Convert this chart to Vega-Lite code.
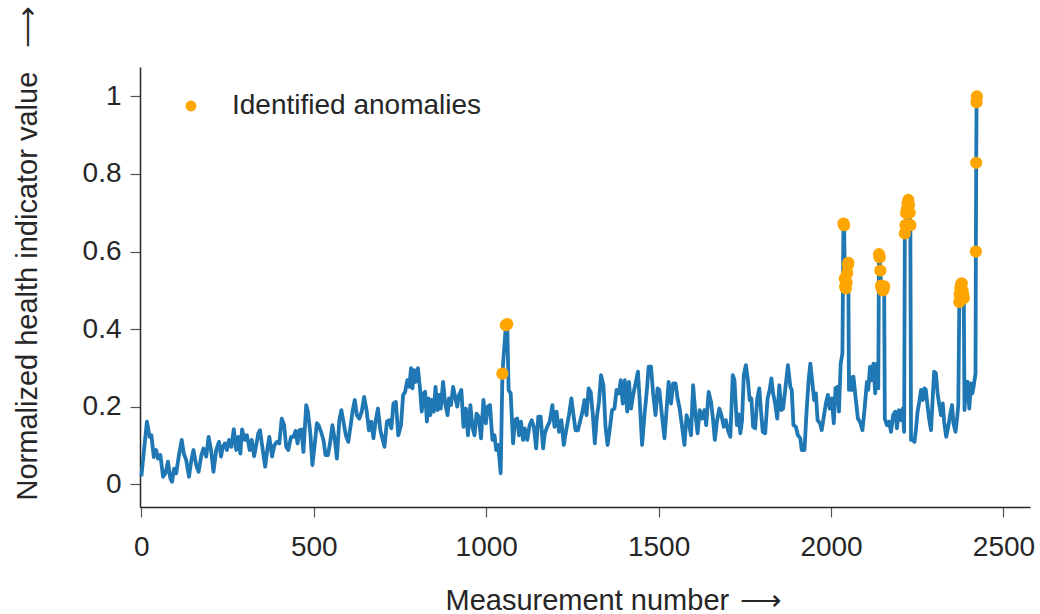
{
"$schema": "https://vega.github.io/schema/vega-lite/v6.json",
"width": 890, "height": 440,
"autosize": {"type": "none"},
"padding": {"left": 140, "top": 67, "right": 10, "bottom": 107},
"background": "white",
"config": {"view": {"stroke": null}, "font": "Liberation Sans"},
"data": {"values": [
{"x":0,"y":0.02},{"x":16,"y":0.161},{"x":24,"y":0.122},{"x":29,"y":0.126},{"x":36,"y":0.070},{"x":43,"y":0.088},{"x":48,"y":0.066},{"x":55,"y":0.075},{"x":63,"y":0.019},{"x":70,"y":0.028},{"x":77,"y":0.058},{"x":84,"y":0.015},{"x":89,"y":0.006},{"x":95,"y":0.040},{"x":101,"y":0.028},{"x":109,"y":0.075},{"x":117,"y":0.114},{"x":123,"y":0.079},{"x":130,"y":0.062},{"x":138,"y":0.019},{"x":145,"y":0.062},{"x":151,"y":0.088},{"x":159,"y":0.049},{"x":166,"y":0.032},{"x":174,"y":0.075},{"x":180,"y":0.092},{"x":188,"y":0.071},{"x":195,"y":0.122},{"x":202,"y":0.088},{"x":209,"y":0.032},{"x":217,"y":0.088},{"x":225,"y":0.109},{"x":231,"y":0.071},{"x":236,"y":0.096},{"x":242,"y":0.105},{"x":248,"y":0.088},{"x":254,"y":0.114},{"x":261,"y":0.096},{"x":268,"y":0.142},{"x":275,"y":0.088},{"x":281,"y":0.122},{"x":287,"y":0.079},{"x":292,"y":0.141},{"x":300,"y":0.114},{"x":306,"y":0.126},{"x":314,"y":0.088},{"x":320,"y":0.114},{"x":327,"y":0.072},{"x":333,"y":0.101},{"x":339,"y":0.131},{"x":344,"y":0.139},{"x":352,"y":0.088},{"x":359,"y":0.045},{"x":365,"y":0.088},{"x":371,"y":0.122},{"x":379,"y":0.071},{"x":386,"y":0.101},{"x":393,"y":0.109},{"x":400,"y":0.105},{"x":407,"y":0.169},{"x":414,"y":0.152},{"x":420,"y":0.096},{"x":426,"y":0.088},{"x":434,"y":0.122},{"x":441,"y":0.122},{"x":447,"y":0.137},{"x":453,"y":0.105},{"x":458,"y":0.139},{"x":464,"y":0.141},{"x":470,"y":0.083},{"x":478,"y":0.204},{"x":483,"y":0.187},{"x":490,"y":0.131},{"x":496,"y":0.049},{"x":503,"y":0.105},{"x":509,"y":0.157},{"x":514,"y":0.152},{"x":521,"y":0.135},{"x":528,"y":0.114},{"x":534,"y":0.075},{"x":541,"y":0.075},{"x":547,"y":0.105},{"x":554,"y":0.152},{"x":561,"y":0.114},{"x":567,"y":0.066},{"x":574,"y":0.165},{"x":580,"y":0.191},{"x":586,"y":0.161},{"x":593,"y":0.126},{"x":600,"y":0.109},{"x":607,"y":0.152},{"x":613,"y":0.191},{"x":619,"y":0.217},{"x":625,"y":0.178},{"x":632,"y":0.169},{"x":639,"y":0.187},{"x":646,"y":0.225},{"x":653,"y":0.191},{"x":660,"y":0.139},{"x":667,"y":0.161},{"x":673,"y":0.118},{"x":679,"y":0.161},{"x":686,"y":0.195},{"x":693,"y":0.139},{"x":700,"y":0.114},{"x":705,"y":0.096},{"x":712,"y":0.161},{"x":719,"y":0.165},{"x":725,"y":0.144},{"x":731,"y":0.208},{"x":738,"y":0.212},{"x":745,"y":0.126},{"x":753,"y":0.152},{"x":759,"y":0.230},{"x":765,"y":0.238},{"x":771,"y":0.268},{"x":777,"y":0.251},{"x":782,"y":0.299},{"x":786,"y":0.247},{"x":791,"y":0.294},{"x":796,"y":0.264},{"x":802,"y":0.299},{"x":808,"y":0.247},{"x":813,"y":0.187},{"x":818,"y":0.234},{"x":823,"y":0.238},{"x":828,"y":0.161},{"x":833,"y":0.221},{"x":838,"y":0.178},{"x":842,"y":0.217},{"x":848,"y":0.187},{"x":853,"y":0.251},{"x":859,"y":0.191},{"x":864,"y":0.230},
{"x":868,"y":0.195},{"x":875,"y":0.264},{"x":881,"y":0.208},{"x":888,"y":0.178},{"x":892,"y":0.221},{"x":898,"y":0.204},{"x":904,"y":0.251},{"x":910,"y":0.225},{"x":916,"y":0.200},{"x":921,"y":0.230},{"x":928,"y":0.243},{"x":934,"y":0.148},{"x":941,"y":0.195},{"x":947,"y":0.126},{"x":954,"y":0.204},{"x":960,"y":0.148},{"x":966,"y":0.126},{"x":972,"y":0.182},{"x":978,"y":0.174},{"x":985,"y":0.118},{"x":992,"y":0.217},{"x":999,"y":0.157},{"x":1005,"y":0.200},{"x":1011,"y":0.204},{"x":1018,"y":0.114},{"x":1024,"y":0.126},{"x":1029,"y":0.088},{"x":1035,"y":0.101},{"x":1042,"y":0.028},{"x":1047,"y":0.285,"a":1},{"x":1057,"y":0.41,"a":1},{"x":1061,"y":0.413,"a":1},{"x":1065,"y":0.243},{"x":1071,"y":0.234},{"x":1078,"y":0.105},{"x":1083,"y":0.165},{"x":1090,"y":0.169},{"x":1095,"y":0.126},{"x":1101,"y":0.161},{"x":1107,"y":0.114},{"x":1112,"y":0.144},{"x":1119,"y":0.114},{"x":1126,"y":0.152},{"x":1132,"y":0.165},{"x":1138,"y":0.148},{"x":1145,"y":0.092},{"x":1151,"y":0.174},{"x":1158,"y":0.174},{"x":1165,"y":0.092},{"x":1170,"y":0.131},{"x":1177,"y":0.148},{"x":1184,"y":0.161},{"x":1192,"y":0.204},{"x":1198,"y":0.148},{"x":1204,"y":0.187},{"x":1211,"y":0.135},{"x":1218,"y":0.165},{"x":1225,"y":0.101},{"x":1232,"y":0.139},{"x":1240,"y":0.178},{"x":1247,"y":0.221},{"x":1252,"y":0.187},{"x":1259,"y":0.139},{"x":1266,"y":0.139},{"x":1272,"y":0.161},{"x":1278,"y":0.182},{"x":1285,"y":0.217},{"x":1291,"y":0.178},{"x":1297,"y":0.247},{"x":1303,"y":0.238},{"x":1309,"y":0.182},{"x":1315,"y":0.105},{"x":1321,"y":0.174},{"x":1327,"y":0.212},{"x":1333,"y":0.281},{"x":1340,"y":0.255},{"x":1346,"y":0.148},{"x":1352,"y":0.101},{"x":1358,"y":0.139},{"x":1365,"y":0.191},{"x":1372,"y":0.195},{"x":1378,"y":0.243},{"x":1385,"y":0.234},{"x":1390,"y":0.268},{"x":1396,"y":0.208},{"x":1402,"y":0.268},{"x":1409,"y":0.187},{"x":1414,"y":0.264},{"x":1420,"y":0.195},{"x":1427,"y":0.234},{"x":1434,"y":0.264},{"x":1440,"y":0.290},{"x":1445,"y":0.217},{"x":1452,"y":0.101},{"x":1459,"y":0.178},{"x":1466,"y":0.243},{"x":1471,"y":0.303},{"x":1478,"y":0.303},{"x":1484,"y":0.234},{"x":1491,"y":0.178},{"x":1497,"y":0.247},{"x":1502,"y":0.243},{"x":1510,"y":0.174},{"x":1517,"y":0.118},{"x":1524,"y":0.204},{"x":1529,"y":0.264},{"x":1536,"y":0.208},{"x":1542,"y":0.260},{"x":1549,"y":0.260},{"x":1555,"y":0.221},{"x":1561,"y":0.195},{"x":1568,"y":0.148},{"x":1575,"y":0.101},{"x":1581,"y":0.178},{"x":1587,"y":0.161},{"x":1594,"y":0.126},{"x":1600,"y":0.255},{"x":1607,"y":0.178},{"x":1613,"y":0.131},{"x":1619,"y":0.191},{"x":1626,"y":0.169},{"x":1633,"y":0.191},{"x":1638,"y":0.152},{"x":1645,"y":0.238},{"x":1652,"y":0.212},{"x":1657,"y":0.174},{"x":1663,"y":0.114},{"x":1669,"y":0.161},{"x":1676,"y":0.195},{"x":1682,"y":0.178},{"x":1689,"y":0.148},{"x":1695,"y":0.165},{"x":1701,"y":0.139},{"x":1708,"y":0.122},{"x":1715,"y":0.281},{"x":1720,"y":0.268},{"x":1727,"y":0.152},{"x":1732,"y":0.18},
{"x":1737,"y":0.131},{"x":1742,"y":0.165},{"x":1747,"y":0.281},{"x":1753,"y":0.307},{"x":1759,"y":0.268},{"x":1764,"y":0.217},{"x":1769,"y":0.221},{"x":1774,"y":0.148},{"x":1780,"y":0.144},{"x":1786,"y":0.221},{"x":1792,"y":0.247},{"x":1797,"y":0.187},{"x":1802,"y":0.135},{"x":1809,"y":0.131},{"x":1816,"y":0.221},{"x":1822,"y":0.243},{"x":1827,"y":0.273},{"x":1832,"y":0.234},{"x":1838,"y":0.208},{"x":1844,"y":0.169},{"x":1850,"y":0.255},{"x":1856,"y":0.191},{"x":1861,"y":0.195},{"x":1867,"y":0.243},{"x":1875,"y":0.307},{"x":1882,"y":0.251},{"x":1886,"y":0.243},{"x":1891,"y":0.152},{"x":1898,"y":0.148},{"x":1904,"y":0.126},{"x":1911,"y":0.118},{"x":1915,"y":0.088},{"x":1923,"y":0.088},{"x":1929,"y":0.187},{"x":1935,"y":0.268},{"x":1940,"y":0.311},{"x":1944,"y":0.277},{"x":1951,"y":0.217},{"x":1956,"y":0.234},{"x":1961,"y":0.165},{"x":1968,"y":0.157},{"x":1973,"y":0.139},{"x":1979,"y":0.174},{"x":1985,"y":0.208},{"x":1991,"y":0.230},{"x":1996,"y":0.195},{"x":2002,"y":0.221},{"x":2008,"y":0.157},{"x":2013,"y":0.247},{"x":2019,"y":0.251},{"x":2023,"y":0.187},{"x":2028,"y":0.311},{"x":2033,"y":0.337},
{"x":2036,"y":0.672,"a":1},{"x":2038,"y":0.668,"a":1},{"x":2040,"y":0.53,"a":1},{"x":2041,"y":0.51,"a":1},{"x":2043,"y":0.505,"a":1},{"x":2045,"y":0.52,"a":1},{"x":2047,"y":0.545,"a":1},{"x":2049,"y":0.565,"a":1},{"x":2050,"y":0.571,"a":1},{"x":2052,"y":0.243},
{"x":2055,"y":0.277},{"x":2060,"y":0.243},{"x":2065,"y":0.277},{"x":2072,"y":0.217},{"x":2078,"y":0.169},{"x":2084,"y":0.161},{"x":2091,"y":0.139},{"x":2097,"y":0.191},{"x":2104,"y":0.264},{"x":2108,"y":0.243},{"x":2113,"y":0.303},{"x":2118,"y":0.268},{"x":2123,"y":0.311},{"x":2128,"y":0.234},{"x":2133,"y":0.311},{"x":2137,"y":0.247},
{"x":2139,"y":0.593,"a":1},{"x":2141,"y":0.585,"a":1},{"x":2143,"y":0.551,"a":1},{"x":2145,"y":0.512,"a":1},{"x":2147,"y":0.505,"a":1},{"x":2150,"y":0.50,"a":1},{"x":2152,"y":0.503,"a":1},{"x":2154,"y":0.51,"a":1},{"x":2156,"y":0.169},
{"x":2162,"y":0.152},{"x":2168,"y":0.161},{"x":2174,"y":0.135},{"x":2180,"y":0.178},{"x":2186,"y":0.187},{"x":2191,"y":0.144},{"x":2197,"y":0.191},{"x":2203,"y":0.165},{"x":2208,"y":0.195},{"x":2212,"y":0.135},
{"x":2214,"y":0.647,"a":1},{"x":2216,"y":0.668,"a":1},{"x":2218,"y":0.699,"a":1},{"x":2220,"y":0.71,"a":1},{"x":2222,"y":0.725,"a":1},{"x":2224,"y":0.733,"a":1},{"x":2226,"y":0.72,"a":1},{"x":2228,"y":0.70,"a":1},{"x":2230,"y":0.668,"a":1},{"x":2232,"y":0.114},
{"x":2236,"y":0.114},{"x":2242,"y":0.109},{"x":2246,"y":0.139},{"x":2251,"y":0.187},{"x":2256,"y":0.213},{"x":2261,"y":0.243},{"x":2266,"y":0.217},{"x":2271,"y":0.247},{"x":2275,"y":0.243},{"x":2280,"y":0.200},{"x":2285,"y":0.165},{"x":2290,"y":0.139},{"x":2295,"y":0.225},{"x":2299,"y":0.290},{"x":2304,"y":0.286},{"x":2309,"y":0.234},{"x":2314,"y":0.204},{"x":2319,"y":0.178},{"x":2324,"y":0.208},{"x":2328,"y":0.161},{"x":2334,"y":0.122},{"x":2340,"y":0.148},{"x":2346,"y":0.182},{"x":2351,"y":0.204},{"x":2355,"y":0.157},{"x":2361,"y":0.135},{"x":2366,"y":0.174},{"x":2369,"y":0.204},
{"x":2372,"y":0.47,"a":1},{"x":2373,"y":0.49,"a":1},{"x":2375,"y":0.505,"a":1},{"x":2377,"y":0.515,"a":1},{"x":2379,"y":0.518,"a":1},{"x":2381,"y":0.50,"a":1},{"x":2383,"y":0.49,"a":1},{"x":2385,"y":0.48,"a":1},{"x":2387,"y":0.191},
{"x":2391,"y":0.25},{"x":2396,"y":0.264},{"x":2401,"y":0.195},{"x":2406,"y":0.260},{"x":2410,"y":0.234},{"x":2415,"y":0.260},{"x":2419,"y":0.286},
{"x":2420,"y":0.60,"a":1},{"x":2421,"y":0.829,"a":1},{"x":2422,"y":0.985,"a":1},{"x":2423,"y":1.0,"a":1}
]},
"encoding": {
  "x": {"field": "x", "type": "quantitative",
    "scale": {"domain": [-4, 2577], "nice": false, "zero": false},
    "axis": {"values": [0, 500, 1000, 1500, 2000, 2500], "format": "d", "grid": false,
      "title": "Measurement number\u00a0\u200a⟶", "titleFontSize": 29, "titleFontWeight": "normal", "titleColor": "#262626",
      "titleAlign": "left", "titleX": 305, "titleY": 102, "titleBaseline": "alphabetic",
      "labelFontSize": 28, "labelColor": "#262626", "labelPadding": 16, "labelFlush": false, "labelOverlap": false,
      "tickSize": 10, "tickColor": "#555555", "tickWidth": 1.2, "domainColor": "#262626", "domainWidth": 1.5}},
  "y": {"field": "y", "type": "quantitative",
    "scale": {"domain": [-0.059, 1.076], "nice": false, "zero": false},
    "axis": {"values": [0, 0.2, 0.4, 0.6, 0.8, 1], "format": "~g", "grid": false,
      "title": "Normalized health indicator value\u00a0\u00a0\u00a0⟶", "titleFontSize": 29, "titleFontWeight": "normal", "titleColor": "#262626",
      "titleAngle": 270, "titleAlign": "left", "titleX": -104, "titleY": 433, "titleBaseline": "alphabetic",
      "labelFontSize": 28, "labelColor": "#262626", "labelPadding": 9, "labelFlush": false, "labelOverlap": false,
      "tickSize": 10, "tickColor": "#555555", "tickWidth": 1.2, "domainColor": "#262626", "domainWidth": 1.5}}
},
"layer": [
  {"mark": {"type": "line", "color": "#1f77b4", "strokeWidth": 3.8, "strokeJoin": "round"}},
  {"transform": [{"filter": "datum.a == 1"}],
   "mark": {"type": "point", "filled": true, "opacity": 1, "size": 150},
   "encoding": {"color": {"datum": "Identified anomalies", "type": "nominal",
     "scale": {"range": ["#ffa500"]},
     "legend": {"title": null, "orient": "none", "legendX": 37, "legendY": 25, "padding": 0,
       "labelFontSize": 28, "labelColor": "#262626", "labelOffset": 27, "labelLimit": 0, "symbolSize": 120, "symbolType": "circle", "symbolStrokeWidth": 0}}}}
]
}
